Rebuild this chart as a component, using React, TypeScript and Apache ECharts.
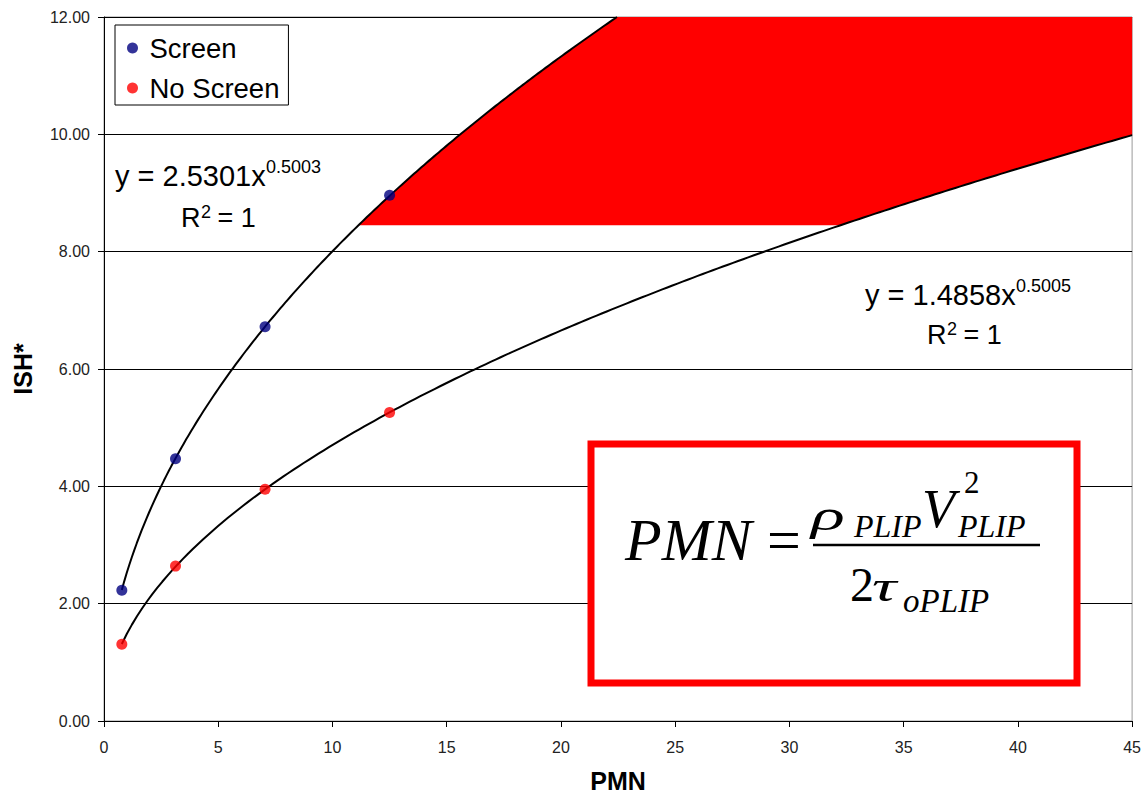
import React, { useEffect, useRef } from "react";
import * as echarts from "echarts";

// ---- data ----
const pmnScreen = [0.78, 3.13, 7.05, 12.5];
const ishScreen = [2.23, 4.47, 6.72, 8.96];
const pmnNoScreen = [0.78, 3.13, 7.05, 12.5];
const ishNoScreen = [1.31, 2.64, 3.95, 5.26];

// power trendlines as printed on the chart: y = a * x^b
const screenFit = { a: 2.5301, b: 0.5003 };
const noScreenFit = { a: 1.4858, b: 0.5005 };

const xAxisMin = 0;
const xAxisMax = 45;
const xAxisStep = 5;
const yAxisMin = 0;
const yAxisMax = 12;
const yAxisStep = 2;

// shaded (red) region: between the two trendlines, above this ISH* level
const regionFloor = 8.45;

const eq1Main = "y = 2.5301x";
const eq1Exp = "0.5003";
const eq2Main = "y = 1.4858x";
const eq2Exp = "0.5005";

// ---- helpers ----
const fitY = (f: { a: number; b: number }, x: number) => f.a * Math.pow(x, f.b);
const fitX = (f: { a: number; b: number }, y: number) => Math.pow(y / f.a, 1 / f.b);

function sampleFit(f: { a: number; b: number }, x0: number, x1: number, n: number) {
  const out: number[][] = [];
  for (let i = 0; i <= n; i++) {
    const x = x0 + ((x1 - x0) * i) / n;
    out.push([x, fitY(f, x)]);
  }
  return out;
}

const screenTrend = sampleFit(
  screenFit,
  pmnScreen[0],
  Math.min(xAxisMax, fitX(screenFit, yAxisMax)),
  200
);
const noScreenTrend = sampleFit(noScreenFit, pmnNoScreen[0], xAxisMax, 200);

const regionPts: number[][] = [
  ...sampleFit(screenFit, fitX(screenFit, regionFloor), fitX(screenFit, yAxisMax), 60),
  [xAxisMax, yAxisMax],
  ...sampleFit(noScreenFit, fitX(noScreenFit, regionFloor), xAxisMax, 60).reverse(),
];

const SANS = '"Liberation Sans", Arial, sans-serif';
const SERIF = '"Liberation Serif", "Times New Roman", serif';

function sansText(text: string, x: number, baseline: number, size: number) {
  return {
    type: "text",
    x,
    y: baseline - 0.3465 * size,
    z: 100,
    style: {
      text,
      fontFamily: SANS,
      fontSize: size,
      fill: "#000",
      align: "left",
      verticalAlign: "middle",
    },
  };
}

function serifText(
  text: string,
  x: number,
  baseline: number,
  size: number,
  italic: boolean,
  scaleX = 1
) {
  return {
    type: "text",
    x,
    y: baseline - 0.3375 * size,
    scaleX,
    z: 101,
    style: {
      text,
      fontFamily: SERIF,
      fontStyle: italic ? "italic" : "normal",
      fontSize: size,
      fill: "#000",
      align: "left",
      verticalAlign: "middle",
    },
  };
}

export default function App() {
  const ref = useRef<HTMLDivElement>(null);

  useEffect(() => {
    if (!ref.current) return;
    const chart = echarts.init(ref.current, undefined, { renderer: "svg" });

    const option: any = {
      animation: false,
      backgroundColor: "#fff",
      grid: {
        left: 104,
        top: 17,
        right: 11,
        bottom: 73,
        show: true,
        borderColor: "#999",
        borderWidth: 1,
        backgroundColor: "transparent",
      },
      legend: {
        show: true,
        data: ["Screen", "No Screen"],
        orient: "vertical",
        left: 115,
        top: 25,
        padding: [9, 9, 3, 12],
        itemGap: 12,
        itemWidth: 24,
        itemHeight: 11,
        icon: "circle",
        borderColor: "#000",
        borderWidth: 1,
        backgroundColor: "#fff",
        textStyle: { fontFamily: SANS, fontSize: 27.5, color: "#000" },
        z: 50,
      },
      xAxis: {
        type: "value",
        min: xAxisMin,
        max: xAxisMax,
        interval: xAxisStep,
        name: "PMN",
        nameLocation: "middle",
        nameGap: 47,
        nameTextStyle: { fontFamily: SANS, fontSize: 25, fontWeight: "bold", color: "#000" },
        axisLine: { show: true, onZero: false, lineStyle: { color: "#000", width: 1 } },
        axisTick: { show: true, inside: false, length: 6, lineStyle: { color: "#000" } },
        axisLabel: { fontFamily: SANS, fontSize: 16, color: "#222", margin: 18 },
        splitLine: { show: false },
      },
      yAxis: {
        type: "value",
        min: yAxisMin,
        max: yAxisMax,
        interval: yAxisStep,
        name: "ISH*",
        nameLocation: "middle",
        nameGap: 69,
        nameTextStyle: { fontFamily: SANS, fontSize: 25, fontWeight: "bold", color: "#000" },
        axisLine: { show: true, onZero: false, lineStyle: { color: "#000", width: 1 } },
        axisTick: { show: true, inside: false, length: 6, lineStyle: { color: "#000" } },
        axisLabel: {
          fontFamily: SANS,
          fontSize: 16,
          color: "#222",
          margin: 14,
          formatter: (v: number) => v.toFixed(2),
        },
        splitLine: { show: true, lineStyle: { color: "#000", width: 1 } },
      },
      series: [
        {
          type: "custom",
          name: "region",
          silent: true,
          data: [[regionPts[0][0], regionPts[0][1]]],
          renderItem: (_params: any, api: any) => ({
            type: "polygon",
            shape: { points: regionPts.map((p) => api.coord(p)) },
            style: { fill: "#ff0000", stroke: "none" },
          }),
          z: 1,
        },
        {
          type: "line",
          name: "Screen trend",
          data: screenTrend,
          showSymbol: false,
          symbol: "none",
          lineStyle: { color: "#000", width: 2 },
          silent: true,
          z: 3,
        },
        {
          type: "line",
          name: "No Screen trend",
          data: noScreenTrend,
          showSymbol: false,
          symbol: "none",
          lineStyle: { color: "#000", width: 2 },
          silent: true,
          z: 3,
        },
        {
          type: "scatter",
          name: "Screen",
          data: pmnScreen.map((x, i) => [x, ishScreen[i]]),
          symbol: "circle",
          symbolSize: 11,
          itemStyle: { color: "#000080" },
          z: 5,
        },
        {
          type: "scatter",
          name: "No Screen",
          data: pmnNoScreen.map((x, i) => [x, ishNoScreen[i]]),
          symbol: "circle",
          symbolSize: 11,
          itemStyle: { color: "#ff0000" },
          z: 5,
        },
      ],
      graphic: [
        // trendline equations
        sansText(eq1Main, 115, 186, 29),
        sansText(eq1Exp, 266, 173, 18),
        sansText("R", 181, 227, 27),
        sansText("2", 201, 218, 18),
        sansText(" = 1", 210, 227, 27),
        sansText(eq2Main, 865, 305, 29),
        sansText(eq2Exp, 1016, 292, 18),
        sansText("R", 927, 344, 27),
        sansText("2", 947, 335, 18),
        sansText(" = 1", 956, 344, 27),
        // formula box
        {
          type: "rect",
          z: 99,
          shape: { x: 591, y: 444, width: 486, height: 239 },
          style: { fill: "#fff", stroke: "#ff0000", lineWidth: 7 },
        },
        serifText("PMN", 625, 560, 60, true),
        serifText("=", 767, 560, 60, false),
        {
          type: "line",
          z: 101,
          shape: { x1: 813, y1: 545, x2: 1040, y2: 545 },
          style: { stroke: "#000", lineWidth: 2.5 },
        },
        serifText("ρ", 811, 530, 44, true, 1.6),
        serifText("PLIP", 854, 537, 32, true),
        serifText("V", 922, 527, 54, true),
        serifText("2", 964, 493, 31, false),
        serifText("PLIP", 958, 537, 32, true),
        serifText("2", 850, 601, 48, false),
        serifText("τ", 872, 601, 44, true, 1.55),
        serifText("oPLIP", 903, 612, 33, true),
      ],
    };

    chart.setOption(option);
    return () => chart.dispose();
  }, []);

  return (
    <div
      ref={ref}
      style={{ position: "absolute", left: 0, top: 0, width: 1144, height: 798, background: "#fff" }}
    />
  );
}
